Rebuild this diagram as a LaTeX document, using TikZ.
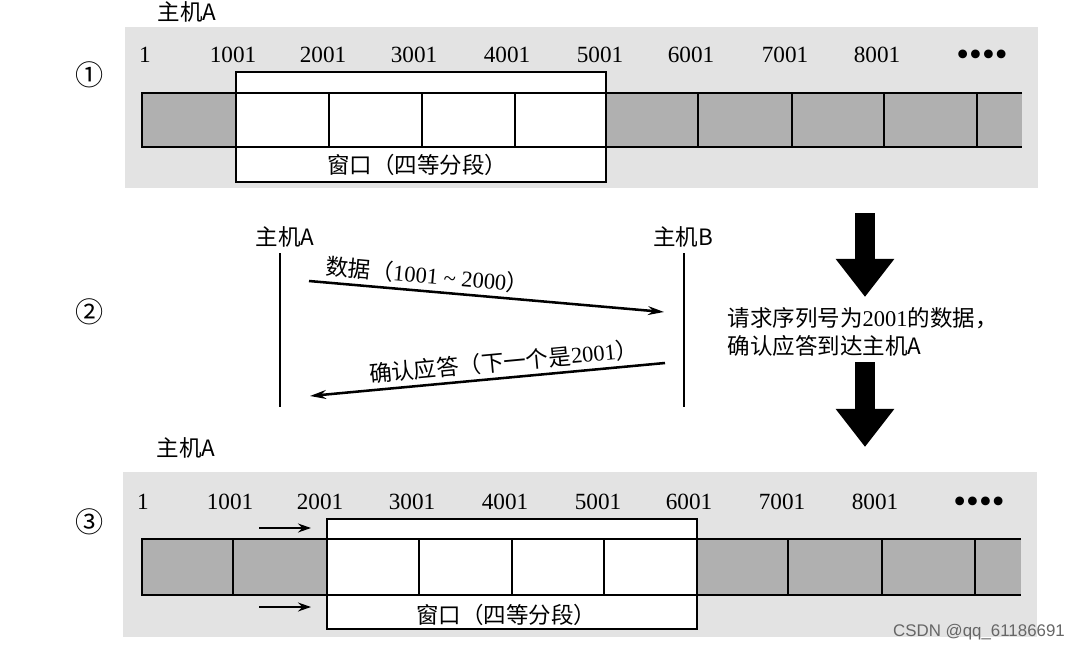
\documentclass[tikz,border=0pt]{standalone}
\usepackage{fontspec}
\setmainfont{Liberation Serif}
\newfontfamily\cjk{Noto Sans CJK SC}
\newfontfamily\marksans{Liberation Sans}
\usetikzlibrary{arrows.meta}

\definecolor{panelgray}{gray}{0.89}
\definecolor{cellgray}{gray}{0.69}

\tikzset{
    seqnum/.style={font=\fontsize{16.5}{18}\selectfont, inner sep=1pt},
    cjktext/.style={font=\cjk\fontsize{16}{20.5}\selectfont, inner sep=1pt},
    stepnum/.style={font=\cjk\fontsize{20}{22}\selectfont, inner sep=1pt},
    dots/.style={font=\fontsize{26}{26}\selectfont, inner sep=0pt},
    barline/.style={line width=1.5pt},
    slidearrow/.style={-{Stealth[length=0.32cm, width=0.22cm]}, line width=1.7pt},
    msg/.style={-{Stealth[length=0.4cm, width=0.22cm]}, line width=1.8pt},
    bigarrow/.style={line width=0.5cm, -{Triangle[length=0.95cm, width=1.4cm]}}
}

\begin{document}
\begin{tikzpicture}[x=0.025cm, y=-0.025cm]
    \useasboundingbox (0,0) rectangle (1080,650);

    % (1) window at 1001..5000
    \fill[panelgray] (125,27) rectangle (1038,188);
    \node[cjktext] (HostA1) at (187,12) {主机A};
    \node[stepnum] (Step1) at (90,75) {①};
    \foreach \x/\t in {145/1, 233/1001, 323/2001, 414/3001, 507/4001,
                       600/5001, 691/6001, 785/7001, 877/8001} {
        \node[seqnum] (Num1-\t) at (\x,55) {\t};
    }
    \node[dots] (Dots1) at (982,58) {••••};
    \draw[barline, fill=white] (236,72) rectangle (606,182);
    \fill[cellgray] (142,93) rectangle (236,147);
    \fill[cellgray] (606,93) rectangle (1022,147);
    \draw[barline] (1022,93) -- (142,93) -- (142,147) -- (1022,147);
    \foreach \x in {236,329,422,515,606,698,792,884,977} {
        \draw[barline] (\x,93) -- (\x,147);
    }
    \node[cjktext] (Window1) at (417,165) {窗口（四等分段）};

    % (2) data and acknowledgement
    \node[stepnum] (Step2) at (90,312) {②};
    \node[cjktext] (HostA2) at (285,237) {主机A};
    \node[cjktext] (HostB2) at (683,237) {主机B};
    \coordinate (ATop) at (280,253);
    \coordinate (ABot) at (280,407);
    \coordinate (BTop) at (684,253);
    \coordinate (BBot) at (684,407);
    \draw[line width=2pt] (ATop) -- (ABot);
    \draw[line width=2pt] (BTop) -- (BBot);
    \coordinate (DataStart) at (309,281);
    \coordinate (DataEnd) at (664,312);
    \draw[msg] (DataStart) to node[cjktext, sloped, above, pos=0.33, yshift=2pt] {
        数据（{\rmfamily 1001 \textasciitilde{} 2000}）
    } (DataEnd);
    \coordinate (AckStart) at (665,363);
    \coordinate (AckEnd) at (310,396);
    \draw[msg] (AckStart) to node[cjktext, sloped, above, pos=0.45, yshift=2pt] {
        确认应答（下一个是{\rmfamily 2001}）
    } (AckEnd);

    % big arrows and note
    \coordinate (Big1Top) at (865,213);
    \coordinate (Big1Tip) at (865,297);
    \coordinate (Big2Top) at (865,362);
    \coordinate (Big2Tip) at (865,447);
    \draw[bigarrow] (Big1Top) -- (Big1Tip);
    \draw[bigarrow] (Big2Top) -- (Big2Tip);
    \node[cjktext, anchor=west, align=left] (Note) at (726,332) {
        请求序列号为{\rmfamily 2001}的数据，\\
        确认应答到达主机A
    };

    % (3) window slides to 2001..6000
    \node[cjktext] (HostA3) at (186,448) {主机A};
    \fill[panelgray] (123,472) rectangle (1037,637);
    \node[stepnum] (Step3) at (90,522) {③};
    \foreach \x/\t in {143/1, 230/1001, 320/2001, 412/3001, 505/4001,
                       598/5001, 689/6001, 782/7001, 875/8001} {
        \node[seqnum] (Num3-\t) at (\x,502) {\t};
    }
    \node[dots] (Dots3) at (979,505) {••••};
    \draw[barline, fill=white] (327,519) rectangle (697,629);
    \fill[cellgray] (142,539) rectangle (327,595);
    \fill[cellgray] (697,539) rectangle (1021,595);
    \draw[barline] (1021,539) -- (142,539) -- (142,595) -- (1021,595);
    \foreach \x in {233,327,419,512,604,697,788,882,975} {
        \draw[barline] (\x,539) -- (\x,595);
    }
    \node[cjktext] (Window3) at (506,615) {窗口（四等分段）};
    \coordinate (SlideTopA) at (259,528);
    \coordinate (SlideTopB) at (311,528);
    \coordinate (SlideBotA) at (259,607);
    \coordinate (SlideBotB) at (311,607);
    \draw[slidearrow] (SlideTopA) -- (SlideTopB);
    \draw[slidearrow] (SlideBotA) -- (SlideBotB);

    \node[font=\marksans\fontsize{12}{14}\selectfont, text=black!60] (Mark) at (979,632) {CSDN @qq\_61186691};
\end{tikzpicture}
\end{document}
